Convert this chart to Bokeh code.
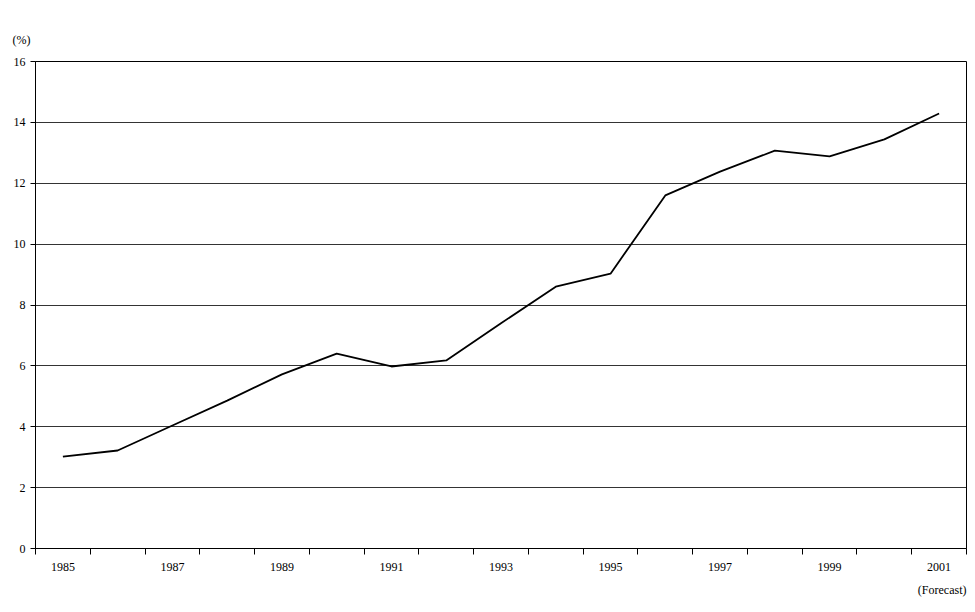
from bokeh.plotting import figure
from bokeh.models import FixedTicker, Title, Range1d
from bokeh.embed import file_html
from bokeh.resources import INLINE

years = list(range(1985, 2002))
values = [3.02, 3.22, 4.04, 4.86, 5.72, 6.40, 5.98, 6.18, 7.40, 8.60, 9.03,
          11.60, 12.38, 13.07, 12.88, 13.44, 14.29]
label_years = list(range(1985, 2002, 2))
boundaries = [y - 0.5 for y in range(1985, 2003)]

FONT = "Liberation Serif"

p = figure(width=967, height=604, output_backend="svg", toolbar_location=None,
           x_range=Range1d(1984.5, 2001.5), y_range=Range1d(0, 16))
p.min_border_left = 35
p.min_border_right = 1
p.min_border_top = 61
p.min_border_bottom = 56
p.outline_line_color = "black"
p.outline_line_width = 1

p.add_layout(Title(text="(%)", text_font=FONT, text_font_size="12px",
                   text_font_style="normal", align="left", text_color="black",
                   offset=-23, standoff=30), "above")
p.add_layout(Title(text="(Forecast)", text_font=FONT, text_font_size="12px",
                   text_font_style="normal", align="right", text_color="black",
                   standoff=14), "below")

p.line(years, values, line_color="black", line_width=1.8)

p.xaxis.ticker = FixedTicker(ticks=label_years, minor_ticks=boundaries)
p.xaxis.major_tick_out = 0
p.xaxis.major_tick_in = 0
p.xaxis.minor_tick_out = 6
p.xaxis.minor_tick_in = 0
p.xaxis.minor_tick_line_color = "black"
p.xaxis.axis_line_color = "black"
p.xaxis.major_label_text_font = FONT
p.xaxis.major_label_text_font_size = "12px"
p.xaxis.major_label_text_color = "black"
p.xaxis.major_label_standoff = 8

p.yaxis.ticker = FixedTicker(ticks=list(range(0, 17, 2)), minor_ticks=[])
p.yaxis.major_tick_out = 5
p.yaxis.major_tick_in = 0
p.yaxis.axis_line_color = "black"
p.yaxis.major_label_text_font = FONT
p.yaxis.major_label_text_font_size = "12px"
p.yaxis.major_label_text_color = "black"

p.xgrid.visible = False
p.ygrid.grid_line_color = "black"
p.ygrid.grid_line_width = 0.8

open("out.html", "w").write(file_html(p, INLINE))
